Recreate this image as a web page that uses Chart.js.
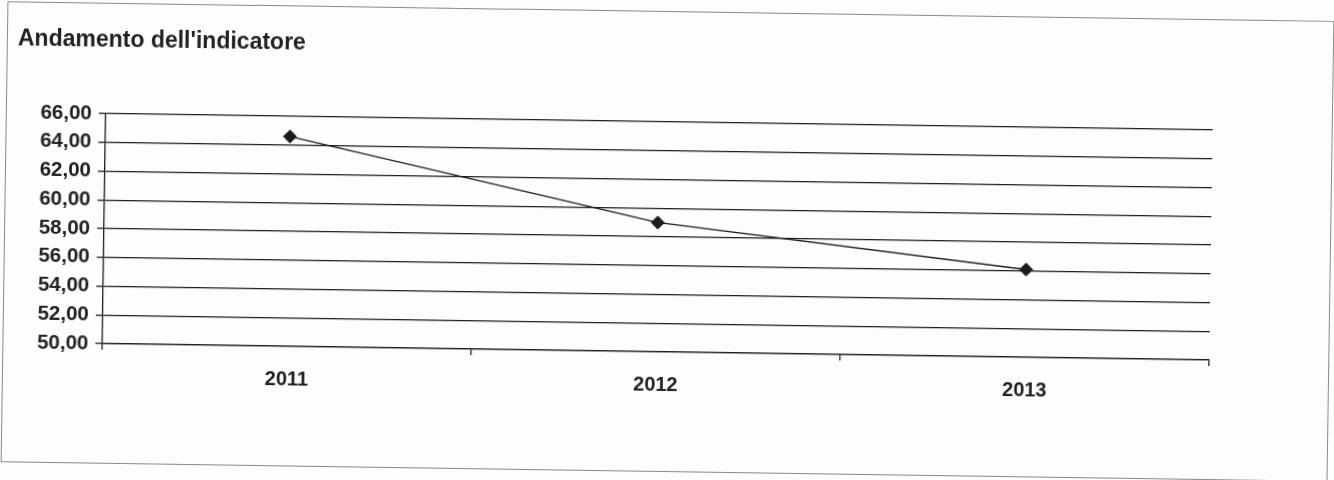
<!DOCTYPE html>
<html>
<head>
<meta charset="utf-8">
<script src="https://cdn.jsdelivr.net/npm/chart.js@4/dist/chart.umd.min.js"></script>
<style>
  html, body { margin: 0; padding: 0; background: #fdfdfd; overflow: hidden; }
  #sheet {
    position: absolute; left: 0; top: 0; width: 1334px; height: 480px;
    transform: rotate(0.85deg); transform-origin: 667px 240px;
  }
  #frame {
    position: absolute; left: 4px; top: 11px; width: 1327px; height: 461px;
    border: 1.5px solid #8a8a8a; box-sizing: border-box;
  }
  #chart { position: absolute; left: 0; top: 0; }
</style>
</head>
<body>
<div id="sheet">
  <div id="frame"></div>
  <canvas id="chart" width="1334" height="480"></canvas>
</div>
<script>
// Yearly values of the indicator
const years = ['2011', '2012', '2013'];
const indicatorValues = [64.6, 59.0, 56.1];
const yTickValues = [50, 52, 54, 56, 58, 60, 62, 64, 66];
const chartTitle = "Andamento dell'indicatore";

const ink = '#1c1c1c';
const fontFamily = 'Arial, "Liberation Sans", sans-serif';

new Chart(document.getElementById('chart'), {
  type: 'line',
  data: {
    labels: years,
    datasets: [{
      data: indicatorValues,
      borderColor: ink,
      borderWidth: 1.5,
      pointStyle: 'rectRot',
      pointRadius: 6.5,
      pointBackgroundColor: ink,
      pointBorderColor: ink,
      pointBorderWidth: 1,
      tension: 0
    }]
  },
  options: {
    responsive: false,
    animation: false,
    layout: { padding: { left: 15, right: 123, top: 0, bottom: 0 } },
    plugins: {
      legend: { display: false },
      tooltip: { enabled: false },
      title: {
        display: true,
        text: chartTitle,
        align: 'start',
        color: '#222',
        font: { family: fontFamily, size: 23, weight: 'bold', lineHeight: 1.2 },
        padding: { top: 35, bottom: 59.4 }
      }
    },
    scales: {
      x: {
        type: 'category',
        offset: true,
        afterFit: (axis) => { axis.height = 128; },
        grid: {
          offset: true,
          drawOnChartArea: false,
          drawTicks: true,
          tickLength: 6,
          color: ink,
          lineWidth: 1.3
        },
        border: { display: true, color: ink, width: 1.3 },
        ticks: {
          color: '#222',
          padding: 15,
          font: { family: fontFamily, size: 20, weight: 'bold', lineHeight: 1.2 }
        }
      },
      y: {
        min: 50,
        max: 66,
        afterFit: (axis) => { axis.width = 89; },
        afterBuildTicks: (axis) => { axis.ticks = yTickValues.map(v => ({ value: v })); },
        grid: {
          color: ink,
          lineWidth: 1.3,
          tickLength: 7
        },
        border: { display: true, color: ink, width: 1.3 },
        ticks: {
          color: '#222',
          padding: 7,
          font: { family: fontFamily, size: 20.5, weight: 'bold' },
          callback: (v) => Number(v).toFixed(2).replace('.', ',')
        }
      }
    }
  }
});
</script>
</body>
</html>
